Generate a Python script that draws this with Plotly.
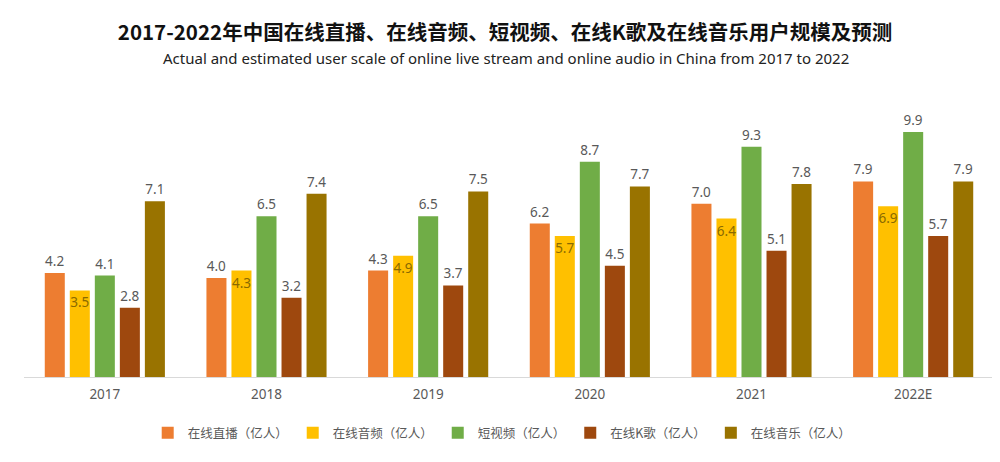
import plotly.graph_objects as go

years = ["2017", "2018", "2019", "2020", "2021", "2022E"]
live = [4.2, 4.0, 4.3, 6.2, 7.0, 7.9]
audio = [3.5, 4.3, 4.9, 5.7, 6.4, 6.9]
short_video = [4.1, 6.5, 6.5, 8.7, 9.3, 9.9]
karaoke = [2.8, 3.2, 3.7, 4.5, 5.1, 5.7]
music = [7.1, 7.4, 7.5, 7.7, 7.8, 7.9]

series = [
    ("在线直播（亿人）", live, "#ED7D31"),
    ("在线音频（亿人）", audio, "#FFC000"),
    ("短视频（亿人）", short_video, "#70AD47"),
    ("在线K歌（亿人）", karaoke, "#9E480E"),
    ("在线音乐（亿人）", music, "#997300"),
]

W, H = 1000, 462
ML, MR, MT, MB = 16, 14, 100, 93
PH = H - MT - MB

fig = go.Figure()
for name, vals, color in series:
    inside = name.startswith("在线音频")
    fig.add_trace(go.Bar(
        name=name, x=years, y=vals,
        marker=dict(color=color, line=dict(width=0)),
        text=[f"{v:.1f}" for v in vals],
        textposition="inside" if inside else "outside",
        insidetextanchor="end" if inside else None,
        textangle=0,
        constraintext="none",
        textfont=dict(size=13.5, color="#8a6a00" if inside else "#595959",
                      family="Noto Sans"),
        cliponaxis=False,
    ))

fig.update_layout(
    width=W, height=H,
    paper_bgcolor="white", plot_bgcolor="white",
    barmode="group", bargap=0.226, bargroupgap=0.2,
    margin=dict(l=ML, r=MR, t=MT, b=MB),
    font=dict(family="Noto Sans", color="#595959"),
    title=dict(
        text="<b>2017-2022年中国在线直播、在线音频、短视频、在线K歌及在线音乐用户规模及预测</b>",
        x=0.497, xanchor="center", y=1 - 25 / H, yanchor="middle",
        font=dict(size=20.5, color="#111111", family="Noto Sans CJK SC"),
    ),
    annotations=[dict(
        text="Actual and estimated user scale of online live stream and online audio in China from 2017 to 2022",
        x=0.497, xref="paper", xanchor="center",
        y=(H - MB - 50) / PH, yref="paper", yanchor="middle", showarrow=False,
        font=dict(size=15, color="#222222", family="Noto Sans"),
    )],
    xaxis=dict(showline=True, linecolor="#d9d9d9", linewidth=1, ticks="",
               ticklabelstandoff=5,
               tickfont=dict(size=13.5, color="#595959")),
    yaxis=dict(range=[0, PH / 24.75], visible=False, showgrid=False),
    legend=dict(orientation="h", x=0.493, xanchor="center",
                y=-(425 - (H - MB)) / PH, yanchor="middle",
                font=dict(size=12.5, color="#595959", family="Noto Sans CJK SC"),
                itemwidth=30, traceorder="normal"),
    showlegend=True,
)

fig.write_html("out.html")
